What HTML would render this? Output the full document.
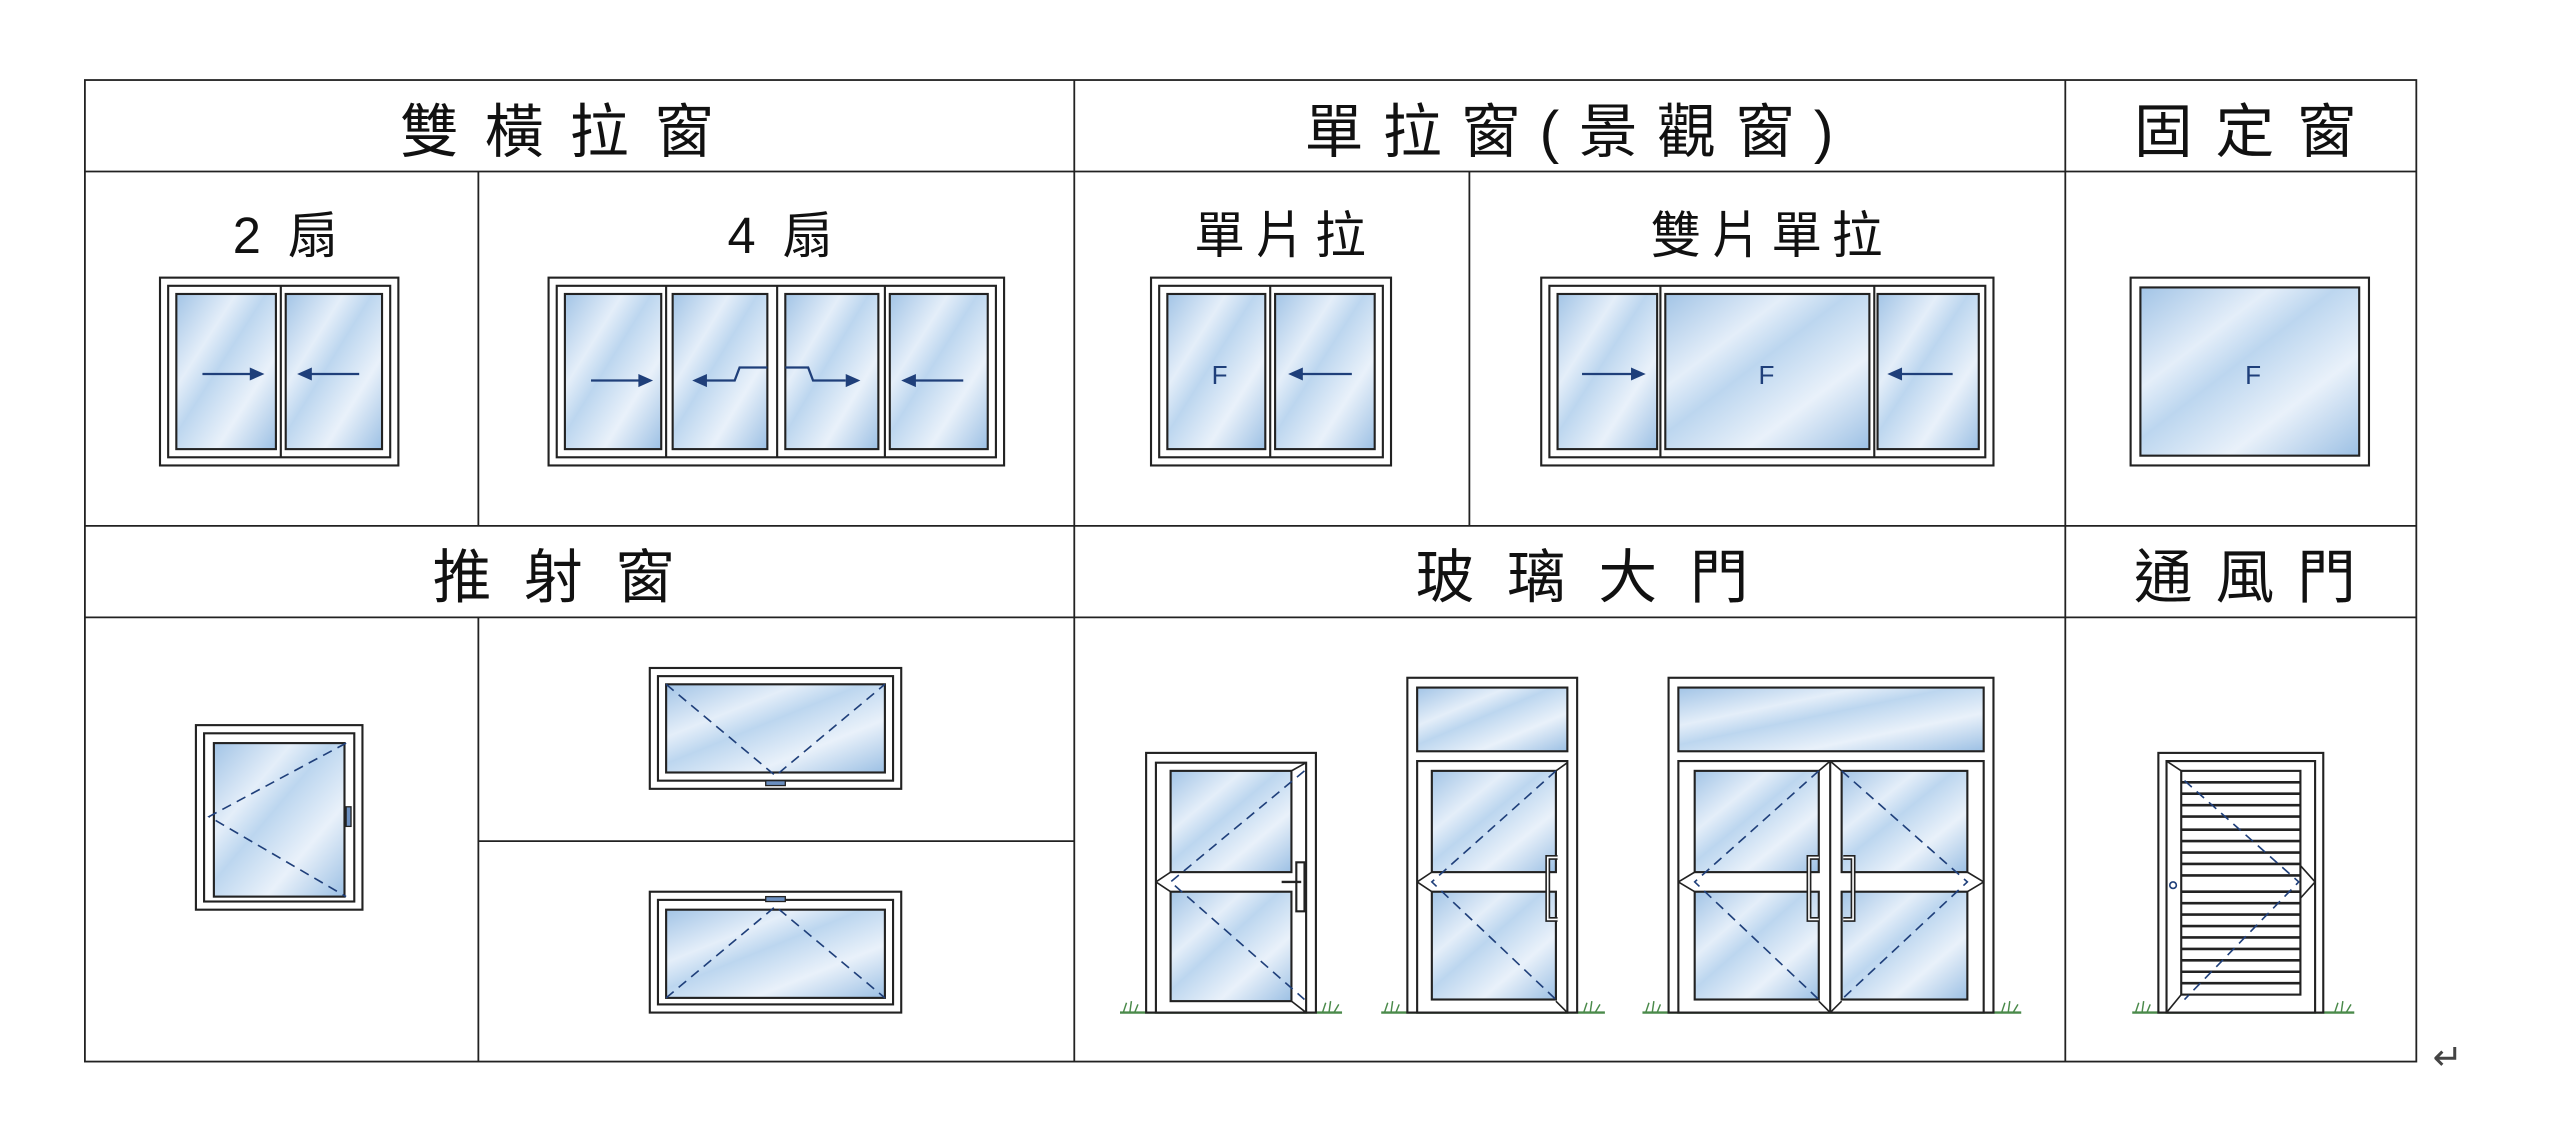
<!DOCTYPE html>
<html><head><meta charset="utf-8"><style>
html,body{margin:0;padding:0;background:#fff;}
svg{display:block;}
text{font-family:"Liberation Sans","Noto Sans CJK TC",sans-serif;fill:#111;}
</style></head><body>
<svg width="2560" height="1122" viewBox="0 0 1568 687" preserveAspectRatio="none" xmlns="http://www.w3.org/2000/svg">
<defs>
<linearGradient id="g" x1="0" y1="0" x2="1" y2="1">
<stop offset="0" stop-color="#a2c4e6"/><stop offset="0.3" stop-color="#e4eef9"/><stop offset="0.45" stop-color="#bcd6ef"/><stop offset="0.7" stop-color="#e9f1fa"/><stop offset="1" stop-color="#9cc0e4"/>
</linearGradient>
</defs>
<rect width="1568" height="687" fill="#fff"/>
<g stroke="#222" stroke-width="1.1" fill="none">
<rect x="52" y="49" width="1428" height="601"/>
<line x1="52" y1="105" x2="1480" y2="105"/>
<line x1="52" y1="322" x2="1480" y2="322"/>
<line x1="52" y1="378" x2="1480" y2="378"/>
<line x1="658" y1="49" x2="658" y2="650"/>
<line x1="1265" y1="49" x2="1265" y2="650"/>
<line x1="293" y1="105" x2="293" y2="322"/>
<line x1="900" y1="105" x2="900" y2="322"/>
<line x1="293" y1="378" x2="293" y2="650"/>
<line x1="293" y1="515" x2="658" y2="515"/>
</g>
<g font-size="36" text-anchor="middle">
<text x="349" y="93" letter-spacing="16">雙橫拉窗</text>
<text x="967" y="93" letter-spacing="12">單拉窗(景觀窗)</text>
<text x="1382" y="93" letter-spacing="14">固定窗</text>
<text x="349" y="366" letter-spacing="20">推射窗</text>
<text x="979" y="366" letter-spacing="20">玻璃大門</text>
<text x="1382" y="366" letter-spacing="14">通風門</text>
</g>
<g font-size="31" text-anchor="middle">
<text x="177" y="155" letter-spacing="4">2 扇</text>
<text x="480" y="155" letter-spacing="4">4 扇</text>
<text x="787" y="155" letter-spacing="6">單片拉</text>
<text x="1085" y="155" letter-spacing="6">雙片單拉</text>
</g>
<g stroke="#222" stroke-width="1.3">
<rect x="98" y="170" width="146" height="115" fill="#fff"/>
<rect x="103" y="175" width="136" height="105" fill="#fff"/>
<rect x="108" y="180" width="61" height="95" fill="url(#g)"/>
<rect x="175" y="180" width="59" height="95" fill="url(#g)"/>
<line x1="172" y1="175" x2="172" y2="280"/>
<rect x="336" y="170" width="279" height="115" fill="#fff"/>
<rect x="341" y="175" width="269" height="105" fill="#fff"/>
<rect x="346" y="180" width="59" height="95" fill="url(#g)"/>
<rect x="412" y="180" width="58" height="95" fill="url(#g)"/>
<rect x="481" y="180" width="57" height="95" fill="url(#g)"/>
<rect x="545" y="180" width="60" height="95" fill="url(#g)"/>
<line x1="408" y1="175" x2="408" y2="280"/><line x1="476" y1="175" x2="476" y2="280"/><line x1="542" y1="175" x2="542" y2="280"/>
<rect x="705" y="170" width="147" height="115" fill="#fff"/>
<rect x="710" y="175" width="137" height="105" fill="#fff"/>
<rect x="715" y="180" width="60" height="95" fill="url(#g)"/>
<rect x="781" y="180" width="61" height="95" fill="url(#g)"/>
<line x1="778" y1="175" x2="778" y2="280"/>
<rect x="944" y="170" width="277" height="115" fill="#fff"/>
<rect x="949" y="175" width="267" height="105" fill="#fff"/>
<rect x="954" y="180" width="61" height="95" fill="url(#g)"/>
<rect x="1020" y="180" width="125" height="95" fill="url(#g)"/>
<rect x="1150" y="180" width="62" height="95" fill="url(#g)"/>
<line x1="1017" y1="175" x2="1017" y2="280"/><line x1="1148" y1="175" x2="1148" y2="280"/>
<rect x="1305" y="170" width="146" height="115" fill="#fff"/>
<rect x="1311" y="176" width="134" height="103" fill="url(#g)"/>
<rect x="120" y="444" width="102" height="113" fill="#fff"/>
<rect x="125" y="449" width="92" height="103" fill="#fff"/>
<rect x="131" y="455" width="80" height="94" fill="url(#g)"/>
<rect x="212" y="494" width="3" height="12" fill="#6b8fc0" stroke-width="0.8"/>
<rect x="398" y="409" width="154" height="74" fill="#fff"/>
<rect x="403" y="414" width="144" height="64" fill="#fff"/>
<rect x="408" y="419" width="134" height="54" fill="url(#g)"/>
<rect x="469" y="478" width="12" height="3" fill="#6b8fc0" stroke-width="0.8"/>
<rect x="398" y="546" width="154" height="74" fill="#fff"/>
<rect x="403" y="551" width="144" height="64" fill="#fff"/>
<rect x="408" y="557" width="134" height="54" fill="url(#g)"/>
<rect x="469" y="549" width="12" height="3" fill="#6b8fc0" stroke-width="0.8"/>
</g>
<g stroke="#1f3f7a" stroke-width="1.4" fill="none">
<line x1="124" y1="229" x2="154" y2="229"/>
<line x1="190" y1="229" x2="220" y2="229"/>
<line x1="362" y1="233" x2="392" y2="233"/>
<path d="M432 233 H450 L453 225 H470"/>
<path d="M481 225 H495 L498 233 H518"/>
<line x1="560" y1="233" x2="590" y2="233"/>
<line x1="797" y1="229" x2="828" y2="229"/>
<line x1="969" y1="229" x2="1000" y2="229"/>
<line x1="1164" y1="229" x2="1196" y2="229"/>
</g>
<g fill="#1f3f7a">
<polygon points="162,229 153,225 153,233"/>
<polygon points="182,229 191,225 191,233"/>
<polygon points="400,233 391,229 391,237"/>
<polygon points="424,233 433,229 433,237"/>
<polygon points="527,233 518,229 518,237"/>
<polygon points="552,233 561,229 561,237"/>
<polygon points="789,229 798,225 798,233"/>
<polygon points="1008,229 999,225 999,233"/>
<polygon points="1156,229 1165,225 1165,233"/>
</g>
<g font-size="16" text-anchor="middle"><text x="747" y="235" style="fill:#1f3f7a">F</text><text x="1082" y="235" style="fill:#1f3f7a">F</text><text x="1380" y="235" style="fill:#1f3f7a">F</text>
<text x="914" y="447" style="fill:#1f3f7a">F</text><text x="1122" y="447" style="fill:#1f3f7a">F</text></g>
<g stroke="#1f3f7a" stroke-width="1" stroke-dasharray="6,4" fill="none">
<path d="M212 455 L128 500 L212 549"/>
<path d="M408 419 L475 475 L542 419"/>
<path d="M408 611 L475 555 L542 611"/>
</g>
<g stroke="#4a8a4a" stroke-width="1.5">
<line x1="686" y1="620" x2="822" y2="620"/>
<line x1="846" y1="620" x2="983" y2="620"/>
<line x1="1006" y1="620" x2="1238" y2="620"/>
<line x1="1306" y1="620" x2="1442" y2="620"/>
</g>
<g stroke="#4a8a4a" stroke-width="0.9" fill="none">
<path d="M688 620 l2 -6 M692 620 l1 -7 M695 620 l2 -5 M810 620 l2 -6 M814 620 l1 -7 M817 620 l3 -5"/>
<path d="M848 620 l2 -6 M852 620 l1 -7 M855 620 l2 -5 M970 620 l2 -6 M974 620 l1 -7 M977 620 l3 -5"/>
<path d="M1008 620 l2 -6 M1012 620 l1 -7 M1015 620 l2 -5 M1226 620 l2 -6 M1230 620 l1 -7 M1233 620 l3 -5"/>
<path d="M1308 620 l2 -6 M1312 620 l1 -7 M1315 620 l2 -5 M1430 620 l2 -6 M1434 620 l1 -7 M1437 620 l3 -5"/>
</g>
<g stroke="#222" stroke-width="1.3">
<rect x="702" y="461" width="104" height="159" fill="#fff"/>
<rect x="708" y="467" width="92" height="153" fill="#fff"/>
<rect x="717" y="472" width="74" height="62" fill="url(#g)"/>
<rect x="717" y="546" width="74" height="67" fill="url(#g)"/>
<rect x="794" y="528" width="5" height="30" fill="#fff"/>
<rect x="862" y="415" width="104" height="205" fill="#fff"/>
<rect x="868" y="421" width="92" height="39" fill="url(#g)"/>
<rect x="868" y="466" width="92" height="154" fill="#fff"/>
<rect x="877" y="472" width="76" height="62" fill="url(#g)"/>
<rect x="877" y="546" width="76" height="66" fill="url(#g)"/>
<rect x="1022" y="415" width="199" height="205" fill="#fff"/>
<rect x="1028" y="421" width="187" height="39" fill="url(#g)"/>
<rect x="1028" y="466" width="187" height="154" fill="#fff"/>
<line x1="1121" y1="466" x2="1121" y2="620"/>
<rect x="1038" y="472" width="76" height="62" fill="url(#g)"/>
<rect x="1038" y="546" width="76" height="66" fill="url(#g)"/>
<rect x="1128" y="472" width="77" height="62" fill="url(#g)"/>
<rect x="1128" y="546" width="77" height="66" fill="url(#g)"/>
<rect x="1322" y="461" width="101" height="159" fill="#fff"/>
<rect x="1327" y="466" width="91" height="154" fill="#fff"/>
<rect x="1336" y="472" width="73" height="137" fill="#fff"/>
</g>
<g stroke="#222" stroke-width="1.6">
<line x1="1336" y1="479" x2="1409" y2="479"/><line x1="1336" y1="486" x2="1409" y2="486"/><line x1="1336" y1="493" x2="1409" y2="493"/><line x1="1336" y1="500" x2="1409" y2="500"/><line x1="1336" y1="508" x2="1409" y2="508"/><line x1="1336" y1="515" x2="1409" y2="515"/><line x1="1336" y1="522" x2="1409" y2="522"/><line x1="1336" y1="529" x2="1409" y2="529"/><line x1="1336" y1="536" x2="1409" y2="536"/>
<line x1="1336" y1="546" x2="1409" y2="546"/><line x1="1336" y1="553" x2="1409" y2="553"/><line x1="1336" y1="560" x2="1409" y2="560"/><line x1="1336" y1="567" x2="1409" y2="567"/><line x1="1336" y1="574" x2="1409" y2="574"/><line x1="1336" y1="581" x2="1409" y2="581"/><line x1="1336" y1="588" x2="1409" y2="588"/><line x1="1336" y1="595" x2="1409" y2="595"/><line x1="1336" y1="602" x2="1409" y2="602"/>
</g>
<circle cx="1331" cy="542" r="2" fill="none" stroke="#1f3f7a"/>
<g stroke="#1f3f7a" stroke-width="1" stroke-dasharray="6,4" fill="none">
<path d="M799 472 L717 540 L799 612"/>
<path d="M953 472 L877 540 L953 612"/>
<path d="M1114 472 L1038 540 L1114 612"/>
<path d="M1128 472 L1205 540 L1128 612"/>
<path d="M1338 478 L1408 540 L1338 612"/>
</g>
<g stroke="#222" stroke-width="1" fill="none">
<path d="M800 467 L791 472 M800 620 L791 613 M708 540 L717 534 M708 540 L717 546"/>
<path d="M960 467 L953 472 M960 620 L953 613 M868 540 L877 534 M868 540 L877 546"/>
<path d="M1121 466 L1114 472 M1121 466 L1128 472 M1121 620 L1114 613 M1121 620 L1128 613 M1028 540 L1038 534 M1028 540 L1038 546 M1215 540 L1205 534 M1215 540 L1205 546"/>
<path d="M1327 466 L1336 472 M1327 620 L1336 609 M1418 540 L1409 530 M1418 540 L1409 550"/>
</g>
<g stroke="#222" stroke-width="1.4" fill="#fff">
<path d="M785 540 H797"/>
<path d="M954 525 H948 V563 H954" fill="none" stroke-width="3"/>
<path d="M954 525 H948 V563 H954" fill="none" stroke="#fff" stroke-width="1"/>
<path d="M1114 525 H1108 V563 H1114" fill="none" stroke-width="3"/>
<path d="M1114 525 H1108 V563 H1114" fill="none" stroke="#fff" stroke-width="1"/>
<path d="M1129 525 H1135 V563 H1129" fill="none" stroke-width="3"/>
<path d="M1129 525 H1135 V563 H1129" fill="none" stroke="#fff" stroke-width="1"/>
</g>
<text x="1490" y="655" font-size="22" style="fill:#444">↵</text>
</svg>
</body></html>
